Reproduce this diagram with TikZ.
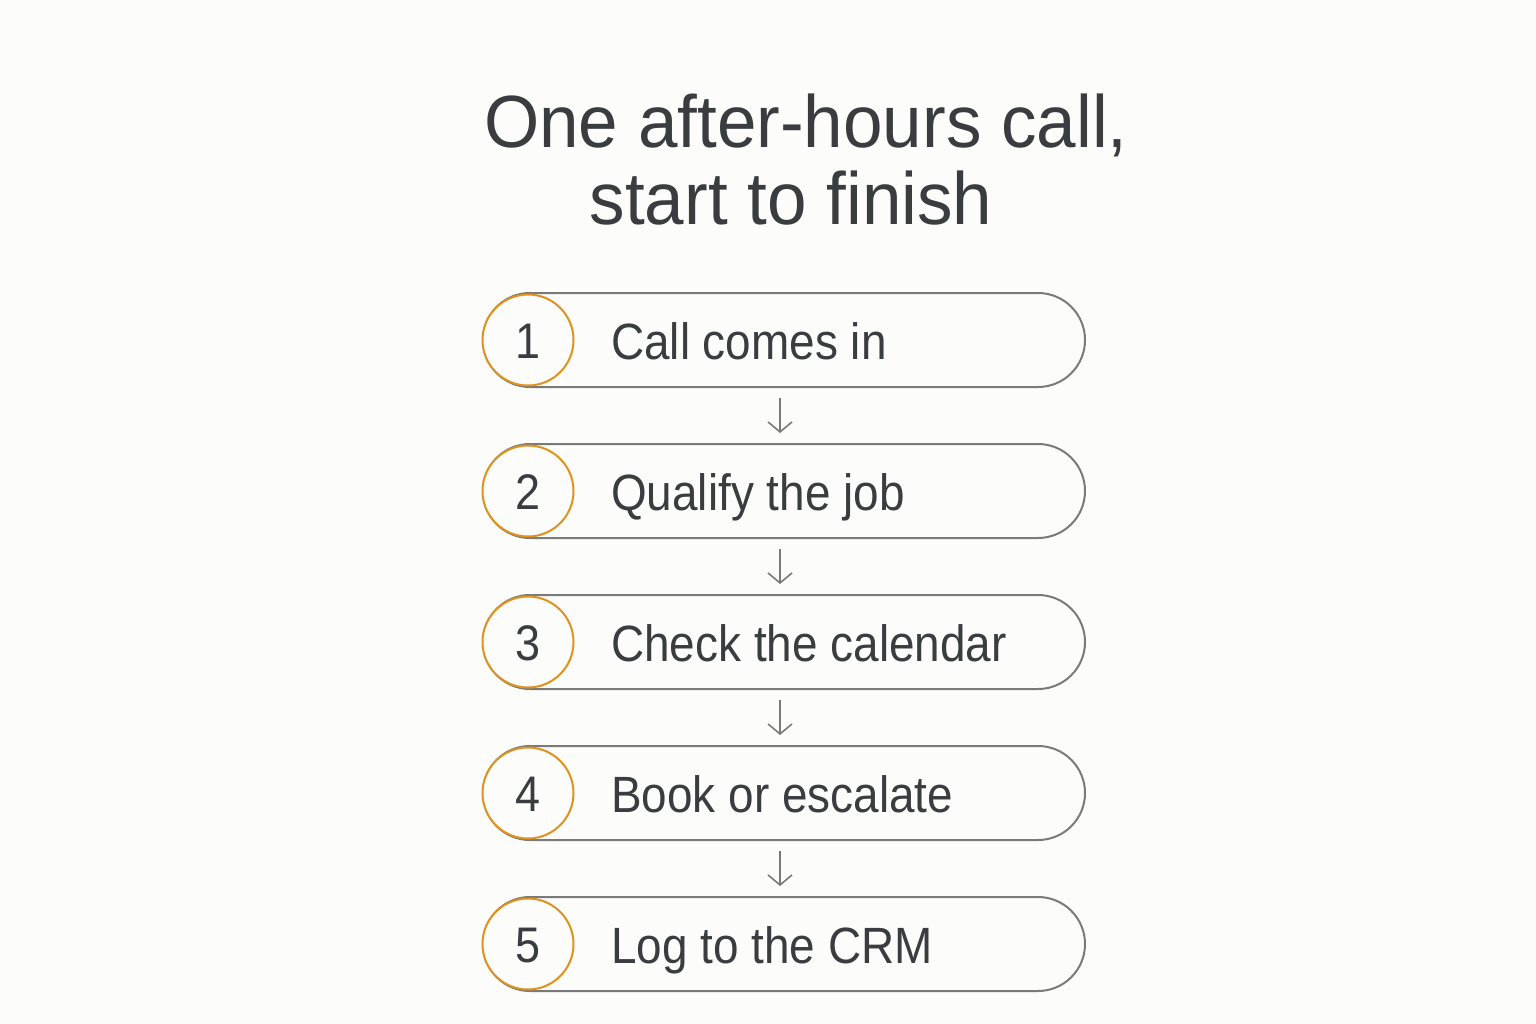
\documentclass[tikz,border=0pt]{standalone}
\usepackage{fontspec}
\setmainfont{Liberation Sans}
\newfontfamily\labelfont[FakeStretch=0.9]{Liberation Sans}
\newfontfamily\headfont[FakeStretch=0.96]{Liberation Sans}
\usetikzlibrary{arrows.meta}
\definecolor{bg}{HTML}{FCFCFA}
\definecolor{ink}{HTML}{3A3D40}
\definecolor{edge}{HTML}{7A7A7A}
\definecolor{accent}{HTML}{E0921E}
\begin{document}
\begin{tikzpicture}[x=1pt,y=-1pt,
  pill/.style={draw=edge,line width=2pt,rounded corners=47pt,minimum width=602pt,minimum height=94pt,inner sep=0pt},
  numcirc/.style={circle,draw=accent,line width=2pt,fill=bg,minimum size=91pt,inner sep=0pt},
  numtext/.style={anchor=base,font=\labelfont\fontsize{50}{60}\selectfont,text=ink,inner sep=0pt},
  steplabel/.style={anchor=base west,font=\labelfont\fontsize{51}{60}\selectfont,text=ink,inner sep=0pt},
  titletext/.style={anchor=base,font=\headfont\fontsize{74}{88}\selectfont,text=ink,inner sep=0pt},
  flow/.style={draw=edge,line width=1.6pt,-{Straight Barb[length=10pt,width=24pt,line width=1.6pt]}}]
\fill[bg] (0,0) rectangle (1536,1024);
\useasboundingbox (0,0) rectangle (1536,1024);
\node[titletext] (t1) at (806,148) {One after-hours call,};
\node[titletext] (t2) at (791,225) {start to finish};
\foreach \i/\y/\txt in {1/340/Call comes in,2/491/Qualify the job,3/642/Check the calendar,4/793/Book or escalate,5/944/Log to the CRM}{
  \node[pill] (b\i) at (784,\y) {};
  \node[numcirc] (c\i) at (528,\y) {};
  \node[numtext] (n\i) at (528,\y+18) {\i};
  \node[steplabel] (l\i) at (611,\y+19) {\txt};
}
\foreach \a/\b in {1/2,2/3,3/4,4/5}{
  \coordinate (s\a) at ([yshift=-10pt]b\a.south -| 780,0);
  \coordinate (e\a) at ([yshift=10pt]b\b.north -| 780,0);
  \draw[flow] (s\a) -- (e\a);
}
\end{tikzpicture}
\end{document}
